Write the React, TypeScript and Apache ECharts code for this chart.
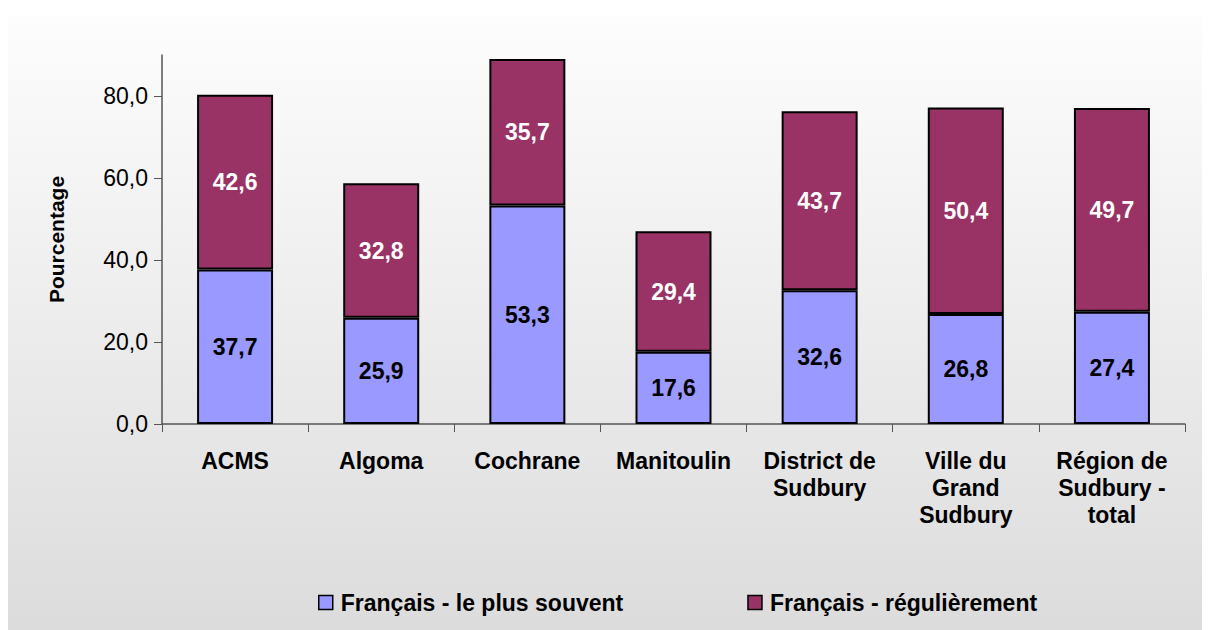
import React, { useEffect, useRef } from "react";
import * as echarts from "echarts";

const categories = [
  "ACMS",
  "Algoma",
  "Cochrane",
  "Manitoulin",
  "District de\nSudbury",
  "Ville du\nGrand\nSudbury",
  "Région de\nSudbury -\ntotal",
];
const seriesNames = ["Français - le plus souvent", "Français - régulièrement"];
const plusSouvent = [37.7, 25.9, 53.3, 17.6, 32.6, 26.8, 27.4];
const regulierement = [42.6, 32.8, 35.7, 29.4, 43.7, 50.4, 49.7];
const yTicks = [0, 20, 40, 60, 80];

const FONT = "'Liberation Sans', Arial, sans-serif";
const fmt = (v: number) => v.toFixed(1).replace(".", ",");

export default function App() {
  const ref = useRef<HTMLDivElement>(null);
  useEffect(() => {
    if (!ref.current) return;
    const chart = echarts.init(ref.current, undefined, { renderer: "svg" });
    chart.setOption({
      animation: false,
      textStyle: { fontFamily: FONT },
      graphic: [
        {
          type: "rect",
          z: -10,
          silent: true,
          shape: { x: 8, y: 15, width: 1194, height: 615 },
          style: {
            fill: new echarts.graphic.LinearGradient(0, 0, 0, 1, [
              { offset: 0, color: "#fdfdfd" },
              { offset: 1, color: "#dcdcdc" },
            ]),
          },
        },
      ],
      grid: { left: 162, right: 25, top: 55, bottom: 206, containLabel: false },
      legend: {
        top: 586,
        left: 313,
        itemGap: 124,
        itemWidth: 14,
        itemHeight: 14,
        icon: "rect",
        itemStyle: { borderColor: "#000", borderWidth: 1.5 },
        textStyle: { fontFamily: FONT, fontSize: 23, fontWeight: "bold", color: "#000", padding: [0, 0, 0, 3] },
        data: seriesNames,
      },
      xAxis: {
        type: "category",
        data: categories,
        axisLine: { lineStyle: { color: "#555", width: 1.5 } },
        axisTick: { show: true, length: 8, lineStyle: { color: "#555" } },
        axisLabel: {
          interval: 0,
          margin: 23,
          fontFamily: FONT,
          fontSize: 23,
          fontWeight: "bold",
          color: "#000",
          lineHeight: 27,
        },
      },
      yAxis: {
        type: "value",
        min: 0,
        max: 90,
        interval: 10,
        name: "Pourcentage",
        nameLocation: "middle",
        nameGap: 95,
        nameTextStyle: { fontFamily: FONT, fontSize: 21, fontWeight: "bold", color: "#000" },
        axisLine: { show: true, lineStyle: { color: "#555", width: 1.5 } },
        axisTick: { show: true, length: 8, customValues: yTicks, lineStyle: { color: "#555" } },
        splitLine: { show: false },
        axisLabel: {
          customValues: yTicks,
          margin: 14,
          fontFamily: FONT,
          fontSize: 23,
          color: "#000",
          formatter: (v: number) => fmt(v),
        },
      },
      series: [
        {
          name: seriesNames[0],
          type: "bar",
          stack: "total",
          barWidth: "52%",
          data: plusSouvent,
          itemStyle: { color: "#9999FF", borderColor: "#000", borderWidth: 2 },
          label: {
            show: true,
            position: "inside",
            fontFamily: FONT,
            fontSize: 23,
            fontWeight: "bold",
            color: "#000",
            formatter: (p: any) => fmt(p.value),
          },
        },
        {
          name: seriesNames[1],
          type: "bar",
          stack: "total",
          barWidth: "52%",
          data: regulierement,
          itemStyle: { color: "#993366", borderColor: "#000", borderWidth: 2 },
          label: {
            show: true,
            position: "inside",
            fontFamily: FONT,
            fontSize: 23,
            fontWeight: "bold",
            color: "#fff",
            formatter: (p: any) => fmt(p.value),
          },
        },
      ],
    });
    return () => chart.dispose();
  }, []);
  return (
    <div
      ref={ref}
      style={{ position: "absolute", left: 0, top: 0, width: 1210, height: 630, background: "#fff" }}
    />
  );
}
